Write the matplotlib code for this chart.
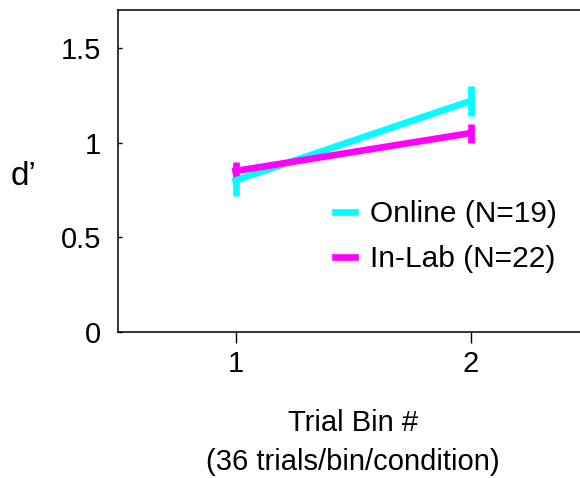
import matplotlib
matplotlib.use("Agg")
import matplotlib.pyplot as plt

plt.rcParams["font.family"] = ["Liberation Sans", "DejaVu Sans"]

# Data
bins = [1, 2]
online_dprime = [0.80, 1.22]
online_err = [0.08, 0.08]
inlab_dprime = [0.85, 1.05]
inlab_err = [0.045, 0.05]

labels = ["Online (N=19)", "In-Lab (N=22)"]
colors = ["#00FFFF", "#FF00FF"]

yticks = [0, 0.5, 1, 1.5]
ytick_labels = ["0", "0.5", "1", "1.5"]


fig = plt.figure(figsize=(5.8, 4.78), dpi=100)
ax = fig.add_axes([118 / 580, 1 - 332 / 478, 470 / 580, 322 / 478])

series = [
    (online_dprime, online_err),
    (inlab_dprime, inlab_err),
]
for (vals, errs), col, lab in zip(series, colors, labels):
    ax.errorbar(bins, vals, yerr=errs, color=col, lw=4.8, elinewidth=4.8,
                capsize=0, label=lab)

ax.set_xlim(0.5, 2.5)
ax.set_ylim(0, 1.7)
ax.set_xticks(bins)
ax.set_xticklabels([str(b) for b in bins], fontsize=21)
ax.set_yticks(yticks)
ax.set_yticklabels(ytick_labels, fontsize=21)
ax.tick_params(axis="x", direction="out", length=8, width=1, pad=5)
ax.tick_params(axis="y", direction="in", length=3, width=1, pad=12)

for side in ["left", "bottom", "top"]:
    ax.spines[side].set_linewidth(1.1)
ax.spines["right"].set_visible(False)

# axis titles
fig.text(353 / 580, 1 - 423 / 478, "Trial Bin #", fontsize=21,
         ha="center", va="center")
fig.text(353 / 580, 1 - 462 / 478, "(36 trials/bin/condition)", fontsize=21,
         ha="center", va="center")
fig.text(11 / 580, 1 - 176 / 478, "d\u2019", fontsize=24, va="center",
         ha="left")

handles, labs = ax.get_legend_handles_labels()
handles = [h[0] for h in handles]
ax.legend(handles, labs, loc="upper left",
          bbox_to_anchor=(335 / 580, 1 - 200 / 478),
          bbox_transform=fig.transFigure, frameon=False, fontsize=21.5,
          handlelength=0.67, handletextpad=0.5, labelspacing=0.58,
          borderpad=0, borderaxespad=0)

fig.savefig("out.png", dpi=100)
